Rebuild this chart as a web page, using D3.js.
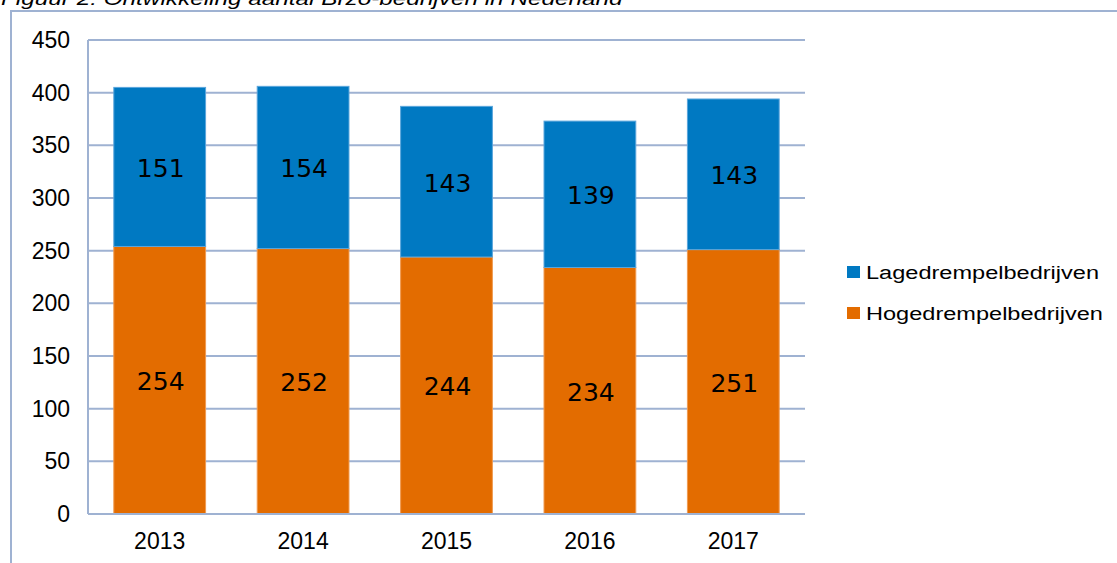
<!DOCTYPE html>
<html>
<head>
<meta charset="utf-8">
<script src="https://cdn.jsdelivr.net/npm/d3@7"></script>
<style>
  body { margin: 0; background: #fff; }
  svg { display: block; }
</style>
</head>
<body>
<svg id="chart"></svg>
<script>
// Data
const years = ["2013", "2014", "2015", "2016", "2017"];
const hoog = [254, 252, 244, 234, 251];
const laag = [151, 154, 143, 139, 143];
const yTicks = [0, 50, 100, 150, 200, 250, 300, 350, 400, 450];
const seriesNames = ["Lagedrempelbedrijven", "Hogedrempelbedrijven"];
const seriesColors = ["#0079c2", "#e36c00"];

const W = 1117, H = 563;
const margin = { top: 40, bottom: 49, left: 88, right: 312 };
const width = W - margin.left - margin.right;
const height = H - margin.top - margin.bottom;
const gridColor = "#9fb2d2";
const arial = "Liberation Sans, Arial, sans-serif";

const svg = d3.select("#chart").attr("width", W).attr("height", H);

// outer frame (partly cut off)
svg.append("line").attr("x1", 11).attr("x2", 11).attr("y1", 11).attr("y2", H)
  .attr("stroke", gridColor).attr("stroke-width", 2);
svg.append("line").attr("x1", 10).attr("x2", W).attr("y1", 11).attr("y2", 11)
  .attr("stroke", gridColor).attr("stroke-width", 2);

// title, cut at the top (picture is stretched sideways)
svg.append("text")
  .attr("transform", "translate(1,5) scale(1.28,1)")
  .attr("font-family", arial)
  .attr("font-style", "italic")
  .attr("font-size", 19)
  .attr("fill", "#000")
  .text("Figuur 2: Ontwikkeling aantal Brzo-bedrijven in Nederland");

const g = svg.append("g").attr("transform", `translate(${margin.left},${margin.top})`);

const x = d3.scaleBand().domain(years).range([0, width]).paddingInner(0.36).paddingOuter(0.18);
const y = d3.scaleLinear().domain([0, 450]).range([height, 0]);

// gridlines
g.append("g").selectAll("line").data(yTicks).join("line")
  .attr("x1", 0).attr("x2", width)
  .attr("y1", d => y(d)).attr("y2", d => y(d))
  .attr("stroke", gridColor).attr("stroke-width", 2);

// vertical axis line
g.append("line").attr("x1", 0).attr("x2", 0).attr("y1", 0).attr("y2", height)
  .attr("stroke", gridColor).attr("stroke-width", 2);

// y tick labels
const yAxis = d3.axisLeft(y).tickValues(yTicks).tickSize(0).tickPadding(18);
const gy = g.append("g").call(yAxis);
gy.select(".domain").remove();
gy.selectAll("text")
  .attr("font-family", arial)
  .attr("font-size", 23).attr("fill", "#000");

// x tick labels
const xAxis = d3.axisBottom(x).tickSize(0).tickPadding(19);
const gx = g.append("g").attr("transform", `translate(0,${height})`).call(xAxis);
gx.select(".domain").remove();
gx.selectAll("text")
  .attr("font-family", arial)
  .attr("font-size", 23).attr("fill", "#000");

// stacked data
const rows = years.map((yr, i) => ({ year: yr, hoog: hoog[i], laag: laag[i] }));
const stack = d3.stack().keys(["hoog", "laag"])(rows);
const colorOf = { hoog: seriesColors[1], laag: seriesColors[0] };
const strokeOf = { hoog: "#f09a50", laag: "#5aa6dc" };

const layers = g.append("g").selectAll("g").data(stack).join("g")
  .attr("fill", d => colorOf[d.key])
  .attr("stroke", d => strokeOf[d.key]);

layers.selectAll("rect").data(d => d).join("rect")
  .attr("x", d => x(d.data.year))
  .attr("width", x.bandwidth())
  .attr("y", d => y(d[1]))
  .attr("height", d => y(d[0]) - y(d[1]))
  .attr("stroke-width", 1);

// x axis baseline drawn on top of bars
g.append("line").attr("x1", 0).attr("x2", width).attr("y1", height).attr("y2", height)
  .attr("stroke", gridColor).attr("stroke-width", 2);

// data labels
layers.selectAll("text").data(d => d).join("text")
  .attr("x", d => x(d.data.year) + x.bandwidth() / 2 + 1)
  .attr("y", d => y((d[0] + d[1]) / 2))
  .attr("dy", "0.4em")
  .attr("text-anchor", "middle")
  .attr("font-family", "DejaVu Sans, Verdana, sans-serif")
  .attr("font-size", 25)
  .attr("fill", "#000").attr("stroke", "none")
  .text(d => d[1] - d[0]);

// legend (text stretched sideways like the reference)
const legend = svg.append("g").attr("transform", "translate(847,266)");
const items = legend.selectAll("g").data(seriesNames).join("g")
  .attr("transform", (d, i) => `translate(0,${i * 41})`);
items.append("rect").attr("width", 13).attr("height", 12)
  .attr("fill", (d, i) => seriesColors[i]);
items.append("text")
  .attr("transform", "translate(19,13) scale(1.24,1)")
  .attr("font-family", arial)
  .attr("font-size", 19)
  .attr("fill", "#000")
  .text(d => d);
</script>
</body>
</html>
